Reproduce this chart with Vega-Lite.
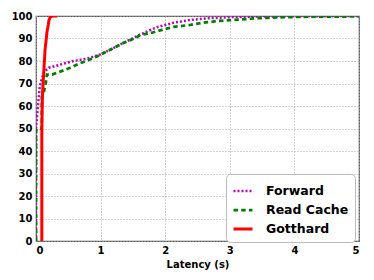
{
  "$schema": "https://vega.github.io/schema/vega-lite/v6.json",
  "width": 323,
  "height": 225,
  "autosize": {"type": "none"},
  "padding": {"left": 36, "top": 16, "right": 15, "bottom": 39},
  "background": "white",
  "config": {
    "font": "DejaVu Sans",
    "view": {"stroke": "#555", "strokeWidth": 1.2},
    "axis": {
      "labelFont": "DejaVu Sans", "labelFontWeight": "bold", "labelFontSize": 10, "labelColor": "#000",
      "titleFont": "DejaVu Sans", "titleFontWeight": "bold", "titleFontSize": 10, "titleColor": "#000",
      "grid": true, "gridColor": "#aaa", "gridDash": [1, 2], "gridWidth": 1,
      "domain": false, "tickSize": 0, "labelPadding": 4
    },
    "legend": {
      "labelFont": "DejaVu Sans", "labelFontWeight": "bold", "labelFontSize": 12.5, "labelColor": "#000"
    }
  },
  "data": {"values": [
    {"series": "Forward", "x": 0, "y": 0},
    {"series": "Forward", "x": 0, "y": 50},
    {"series": "Forward", "x": 0.03, "y": 60},
    {"series": "Forward", "x": 0.06, "y": 69},
    {"series": "Forward", "x": 0.12, "y": 75},
    {"series": "Forward", "x": 0.2, "y": 77},
    {"series": "Forward", "x": 0.33, "y": 78},
    {"series": "Forward", "x": 0.45, "y": 79},
    {"series": "Forward", "x": 0.58, "y": 80},
    {"series": "Forward", "x": 0.78, "y": 81},
    {"series": "Forward", "x": 0.9, "y": 82},
    {"series": "Forward", "x": 1.0, "y": 83},
    {"series": "Forward", "x": 1.15, "y": 85},
    {"series": "Forward", "x": 1.35, "y": 88},
    {"series": "Forward", "x": 1.56, "y": 91},
    {"series": "Forward", "x": 1.75, "y": 93.5},
    {"series": "Forward", "x": 1.87, "y": 95},
    {"series": "Forward", "x": 2.13, "y": 97},
    {"series": "Forward", "x": 2.38, "y": 98.2},
    {"series": "Forward", "x": 2.66, "y": 99},
    {"series": "Forward", "x": 3.05, "y": 99.5},
    {"series": "Forward", "x": 3.5, "y": 99.8},
    {"series": "Forward", "x": 5, "y": 100},
    {"series": "Read Cache", "x": 0, "y": 0},
    {"series": "Read Cache", "x": 0, "y": 49},
    {"series": "Read Cache", "x": 0.02, "y": 50},
    {"series": "Read Cache", "x": 0.09, "y": 50},
    {"series": "Read Cache", "x": 0.09, "y": 64},
    {"series": "Read Cache", "x": 0.12, "y": 66},
    {"series": "Read Cache", "x": 0.15, "y": 70},
    {"series": "Read Cache", "x": 0.17, "y": 74},
    {"series": "Read Cache", "x": 0.25, "y": 74},
    {"series": "Read Cache", "x": 0.35, "y": 75},
    {"series": "Read Cache", "x": 0.53, "y": 77},
    {"series": "Read Cache", "x": 0.68, "y": 79},
    {"series": "Read Cache", "x": 0.78, "y": 80},
    {"series": "Read Cache", "x": 0.94, "y": 82},
    {"series": "Read Cache", "x": 1.15, "y": 85},
    {"series": "Read Cache", "x": 1.35, "y": 88},
    {"series": "Read Cache", "x": 1.56, "y": 90.5},
    {"series": "Read Cache", "x": 1.61, "y": 91.6},
    {"series": "Read Cache", "x": 1.76, "y": 92.3},
    {"series": "Read Cache", "x": 1.95, "y": 93.8},
    {"series": "Read Cache", "x": 2.13, "y": 95.2},
    {"series": "Read Cache", "x": 2.38, "y": 96},
    {"series": "Read Cache", "x": 2.59, "y": 97},
    {"series": "Read Cache", "x": 2.82, "y": 97.8},
    {"series": "Read Cache", "x": 3.05, "y": 98.2},
    {"series": "Read Cache", "x": 3.42, "y": 99},
    {"series": "Read Cache", "x": 3.78, "y": 99.4},
    {"series": "Read Cache", "x": 4.2, "y": 99.7},
    {"series": "Read Cache", "x": 5, "y": 99.8},
    {"series": "Gotthard", "x": 0.09, "y": 0},
    {"series": "Gotthard", "x": 0.09, "y": 50},
    {"series": "Gotthard", "x": 0.1, "y": 65},
    {"series": "Gotthard", "x": 0.11, "y": 70},
    {"series": "Gotthard", "x": 0.13, "y": 80},
    {"series": "Gotthard", "x": 0.14, "y": 85},
    {"series": "Gotthard", "x": 0.16, "y": 90},
    {"series": "Gotthard", "x": 0.17, "y": 93},
    {"series": "Gotthard", "x": 0.19, "y": 96},
    {"series": "Gotthard", "x": 0.2, "y": 98},
    {"series": "Gotthard", "x": 0.22, "y": 99.5},
    {"series": "Gotthard", "x": 0.25, "y": 100},
    {"series": "Gotthard", "x": 0.33, "y": 100}
  ]},
  "mark": {"type": "line", "clip": true},
  "encoding": {
    "x": {"field": "x", "type": "quantitative", "scale": {"domain": [0, 5], "nice": false},
          "axis": {"values": [0, 1, 2, 3, 4, 5], "title": "Latency (s)", "titlePadding": 4}},
    "y": {"field": "y", "type": "quantitative", "scale": {"domain": [0, 100], "nice": false},
          "axis": {"values": [0, 10, 20, 30, 40, 50, 60, 70, 80, 90, 100], "title": null}},
    "order": [{"field": "x", "type": "quantitative"}, {"field": "y", "type": "quantitative"}],
    "color": {"field": "series", "type": "nominal",
              "scale": {"domain": ["Forward", "Read Cache", "Gotthard"], "range": ["#bf00bf", "#008000", "#ff0000"]},
              "legend": {"title": null, "orient": "none", "legendX": 190, "legendY": 158,
                         "symbolType": "stroke", "symbolSize": 361, "labelOffset": 12, "rowPadding": 1,
                         "strokeColor": "#bbb", "cornerRadius": 4, "padding": 6, "fillColor": "white"}},
    "strokeDash": {"field": "series", "type": "nominal",
                   "scale": {"domain": ["Forward", "Read Cache", "Gotthard"], "range": [[2, 2], [4.5, 3.2], [1, 0]]}},
    "strokeWidth": {"field": "series", "type": "nominal",
                    "scale": {"domain": ["Forward", "Read Cache", "Gotthard"], "range": [2.5, 3, 3]}}
  }
}
